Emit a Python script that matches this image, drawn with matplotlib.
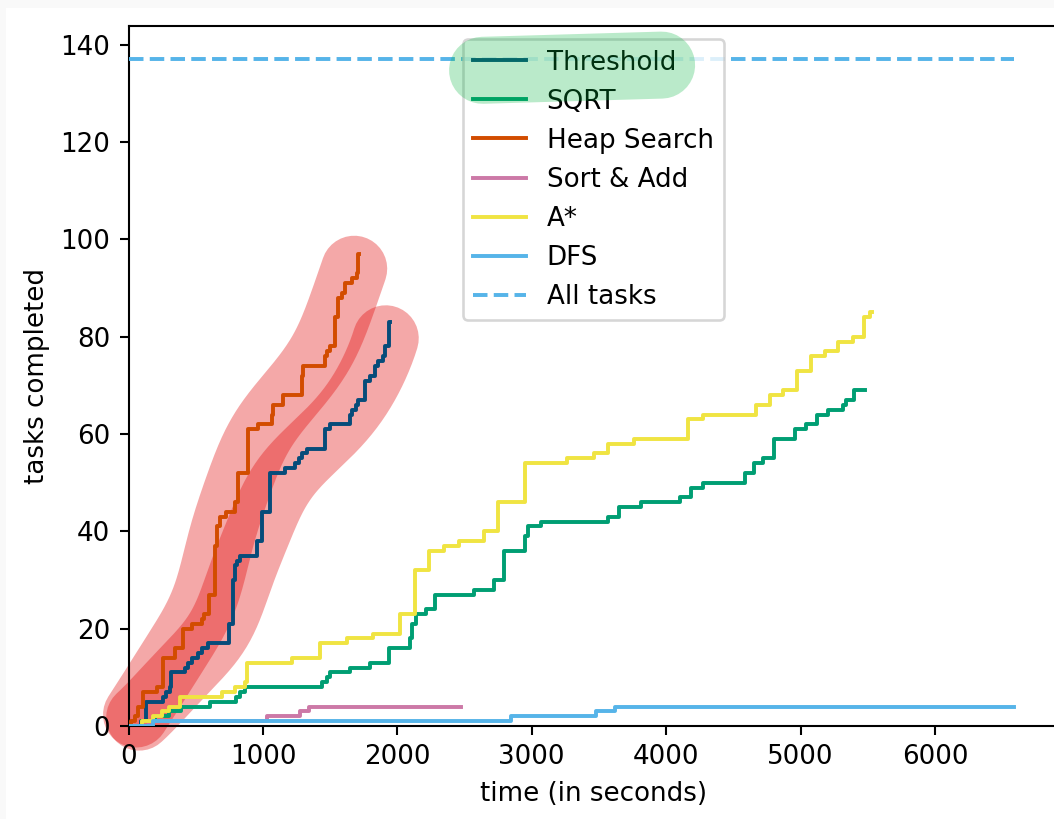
import matplotlib
matplotlib.use("Agg")
import matplotlib.pyplot as plt
import numpy as np
from matplotlib.lines import Line2D
from matplotlib.patches import Rectangle
from matplotlib.transforms import IdentityTransform

# step data: time of each completion (s) and tasks completed so far
threshold_t = [0, 95, 132, 257, 282, 307, 319, 419, 444, 469, 514, 544, 594, 745, 780, 795,
               808, 831, 954, 991, 1053, 1164, 1239, 1270, 1289, 1326, 1462, 1499, 1648,
               1666, 1690, 1710, 1760, 1797, 1834, 1859, 1896, 1908, 1941, 1946]
threshold_n = [0, 1, 5, 6, 7, 8, 11, 12, 13, 14, 15, 16, 17, 21, 30, 33,
               34, 35, 38, 44, 52, 53, 54, 55, 56, 57, 61, 62, 64,
               65, 66, 67, 71, 72, 74, 75, 76, 78, 83, 83]

sqrt_t = [0, 100, 200, 300, 393, 605, 800, 829, 866, 1439, 1477, 1500, 1651, 1800, 1937,
          2092, 2109, 2141, 2216, 2283, 2571, 2720, 2794, 2953, 2973, 3072, 3568, 3647,
          3816, 4104, 4188, 4275, 4585, 4655, 4722, 4804, 4962, 5044, 5119, 5205, 5317,
          5342, 5399, 5478]
sqrt_n = [0, 1, 2, 3, 4, 5, 6, 7, 8, 9, 10, 11, 12, 13, 16,
          18, 21, 23, 24, 27, 28, 30, 36, 39, 41, 42, 43, 45,
          46, 47, 49, 50, 52, 54, 55, 59, 61, 62, 64, 65, 66,
          67, 69, 69]

heap_t = [0, 20, 45, 70, 107, 211, 257, 347, 405, 475, 550, 560, 598, 640, 660, 681, 725,
          790, 815, 890, 966, 1065, 1075, 1152, 1289, 1300, 1462, 1480, 1499, 1538, 1560,
          1587, 1612, 1661, 1700, 1710, 1715]
heap_n = [0, 1, 2, 4, 7, 8, 14, 16, 20, 21, 22, 23, 27, 37, 41, 43, 44,
          46, 52, 61, 62, 64, 66, 68, 72, 74, 76, 77, 78, 84, 88,
          89, 91, 92, 93, 97, 97]

sort_add_t = [0, 150, 1031, 1279, 1341, 2476]
sort_add_n = [0, 1, 2, 3, 4, 4]

astar_t = [0, 100, 180, 250, 300, 385, 696, 795, 869, 882, 1217, 1423, 1627, 1818, 2020,
           2129, 2233, 2347, 2457, 2645, 2749, 2953, 3263, 3464, 3568, 3761, 4163, 4275,
           4672, 4771, 4866, 4977, 5076, 5181, 5280, 5387, 5474, 5515, 5529]
astar_n = [0, 1, 2, 3, 4, 6, 7, 8, 9, 13, 14, 17, 18, 19, 23,
           32, 36, 37, 38, 40, 46, 54, 55, 56, 58, 59, 63, 64,
           66, 68, 69, 73, 76, 77, 79, 80, 84, 85, 85]

dfs_t = [0, 180, 2848, 3481, 3618, 6590]
dfs_n = [0, 1, 2, 3, 4, 4]

all_tasks = 137
x_ticks = [0, 1000, 2000, 3000, 4000, 5000, 6000]

DPI = 188
fig = plt.figure(figsize=(1054 / DPI, 819 / DPI), dpi=DPI)
fig.patch.set_facecolor("#f9f9f9")
fig.add_artist(Rectangle((6 / 1054, 0), 1, 811 / 819, transform=fig.transFigure,
                         facecolor="white", edgecolor="none", zorder=-1))

# axes runs a little past the right edge, like the cropped original
ax = fig.add_axes([128.5 / 1054, 93 / 819, 930 / 1054, 700 / 819])
ax.set_xlim(0, max(dfs_t) * 1.05)
ax.set_ylim(0, all_tasks * 1.05)
ax.set_xticks(x_ticks)


def highlight_path(t, n, sigma=48):
    # smooth version of a step curve, done in pixel space
    xs = np.repeat(np.asarray(t, float), 2)[1:]
    ys = np.repeat(np.asarray(n, float), 2)[:-1]
    pts = ax.transData.transform(np.column_stack([xs, ys]))
    seg = np.hypot(*np.diff(pts, axis=0).T)
    s = np.concatenate([[0], np.cumsum(seg)])
    u = np.arange(0, s[-1], 2.0)
    px = np.interp(u, s, pts[:, 0])
    py = np.interp(u, s, pts[:, 1])
    k = np.arange(-3 * sigma, 3 * sigma + 1, 2.0)
    w = np.exp(-0.5 * (k / sigma) ** 2)
    w /= w.sum()
    pad = len(k) // 2
    px = np.convolve(np.pad(px, pad, mode="edge"), w, mode="valid")
    py = np.convolve(np.pad(py, pad, mode="edge"), w, mode="valid")
    return ax.transData.inverted().transform(np.column_stack([px, py]))


stroke_w = 66 * 72 / DPI
for t, n in [(heap_t, heap_n), (threshold_t, threshold_n)]:
    p = highlight_path(t, n)
    ax.plot(p[:, 0], p[:, 1], color="#e00000", alpha=0.34, lw=stroke_w,
            solid_capstyle="round", solid_joinstyle="round", clip_on=False, zorder=1)

ax.step(threshold_t, threshold_n, where="post", color="#064c7a", label="Threshold", zorder=3)
ax.step(sqrt_t, sqrt_n, where="post", color="#009E73", label="SQRT", zorder=3)
ax.step(heap_t, heap_n, where="post", color="#d24c00", label="Heap Search", zorder=3)
ax.step(sort_add_t, sort_add_n, where="post", color="#CC79A7", label="Sort & Add", zorder=3)
ax.step(astar_t, astar_n, where="post", color="#F0E442", label="A*", zorder=3)
ax.step(dfs_t, dfs_n, where="post", color="#56B4E9", label="DFS", zorder=3)
ax.plot([0, max(dfs_t)], [all_tasks, all_tasks], "--", color="#56B4E9", label="All tasks", zorder=3)

ax.set_xlabel("time (in seconds)")
ax.set_ylabel("tasks completed")
leg = ax.legend(loc="upper center")

# green marker stroke over the first legend entry
fig.canvas.draw()
tb = leg.get_texts()[0].get_window_extent()
hb = leg.get_lines()[0].get_window_extent()
h = tb.height
x0 = hb.x0 + 0.35 * h
x1 = tb.x1 - 0.55 * h
yc = (tb.y0 + tb.y1) / 2 - 0.3 * h
fig.add_artist(Line2D([x0, x1], [yc, yc + 0.2 * h], transform=IdentityTransform(),
                      color="#00b43c", alpha=0.27, lw=67 * 72 / DPI,
                      solid_capstyle="round", zorder=10))

fig.savefig("out.png", dpi=DPI, facecolor=fig.get_facecolor())
